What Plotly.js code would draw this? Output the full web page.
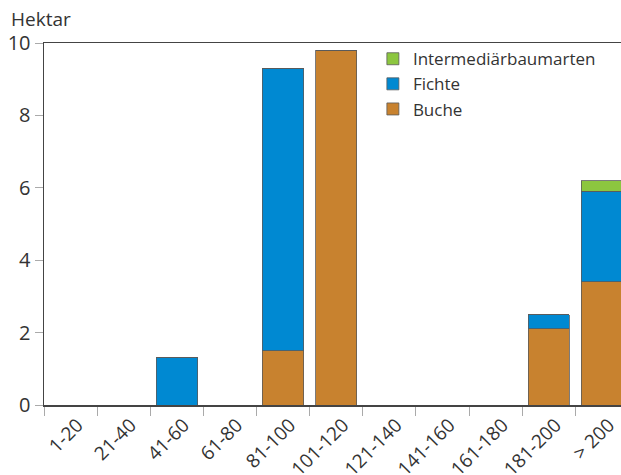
<!DOCTYPE html>
<html><head><meta charset="utf-8">
<script src="https://cdn.plot.ly/plotly-3.0.1.min.js"></script>
<style>html,body{margin:0;padding:0;background:#fff}#c{width:621px;height:475px}</style>
</head><body><div id="c"></div>
<script>
const categories = ["1-20","21-40","41-60","61-80","81-100","101-120","121-140","141-160","161-180","181-200","> 200"];
const buche = [0,0,0,0,1.5,9.8,0,0,0,2.1,3.4];
const fichte = [0,0,1.3,0,7.8,0,0,0,0,0.4,2.5];
const intermediaer = [0,0,0,0,0,0,0,0,0,0,0.3];
const yTicks = [0,2,4,6,8,10];

const line = {color:'#5a5a5a', width:0.8};
const traces = [
  {type:'bar', name:'Buche', x:categories, y:buche, marker:{color:'#C8822F', line:line}},
  {type:'bar', name:'Fichte', x:categories, y:fichte, marker:{color:'#0089D2', line:line}},
  {type:'bar', name:'Intermediärbaumarten', x:categories, y:intermediaer, marker:{color:'#8CC63F', line:line}}
];
const fam = 'Open Sans, sans-serif';
const layout = {
  width:621, height:475,
  margin:{l:44, r:0, t:43, b:70},
  barmode:'stack', bargap:0.22,
  paper_bgcolor:'#fff', plot_bgcolor:'#fff',
  font:{family:fam, color:'#333', size:17},
  showlegend:true,
  legend:{x:0.57, y:1.005, xanchor:'left', yanchor:'top', font:{family:fam, size:17, color:'#333'}, bgcolor:'rgba(0,0,0,0)', tracegroupgap:0, itemwidth:30, traceorder:'reversed'},
  xaxis:{type:'category', range:[-0.5,10.36], showline:true, linecolor:'#444', linewidth:1.5, mirror:true,
    ticks:'outside', tickson:'boundaries', ticklen:9, tickcolor:'#aaa', tickangle:-45, ticklabelshift:7, showgrid:false, zeroline:false,
    automargin:false, tickfont:{family:fam, size:19, color:'#333'}},
  yaxis:{range:[0,10], tickvals:yTicks, showline:true, linecolor:'#444', linewidth:1.5, ticks:'outside', ticklen:8, tickcolor:'#aaa',
    showgrid:false, zeroline:false, automargin:false, tickfont:{family:fam, size:20, color:'#333'}},
  annotations:[{text:'Hektar', xref:'paper', yref:'paper', x:-0.06, y:1.108, xanchor:'left', yanchor:'top', showarrow:false,
    font:{family:fam, size:19, color:'#333'}}]
};
Plotly.newPlot('c', traces, layout, {displayModeBar:false, staticPlot:true});
</script></body></html>
